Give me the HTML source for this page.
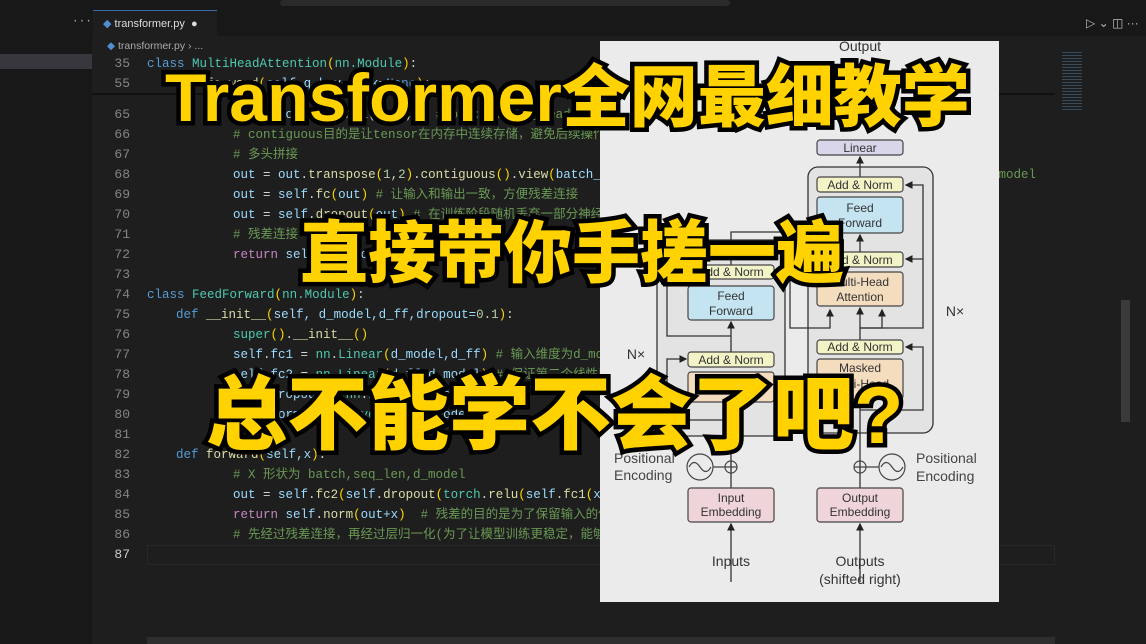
<!DOCTYPE html>
<html><head><meta charset="utf-8">
<style>
*{margin:0;padding:0;box-sizing:border-box}
body{width:1146px;height:644px;overflow:hidden;background:#1e1e1e;position:relative;font-family:"Liberation Mono","Noto Sans CJK SC",monospace}
.abs{position:absolute}
.code{position:absolute;left:0;top:0;width:1055px;height:644px;overflow:hidden}
.ln{position:absolute;left:80px;width:50px;text-align:right;font-size:13px;line-height:14px;color:#858585}
.cl{position:absolute;left:168px;font-size:12.5px;line-height:14px;color:#d4d4d4;white-space:pre}
.k{color:#569cd6}.t{color:#4ec9b0}.v{color:#9cdcfe}.c{color:#6a9955}.r{color:#c586c0}.f{color:#dcdcaa}.n{color:#b5cea8}.y{color:#ffd700}
.title{position:absolute;font-family:"Liberation Sans","Noto Sans CJK SC",sans-serif;font-weight:900;color:#ffd200;-webkit-text-stroke:9px #000;paint-order:stroke fill;line-height:1;white-space:nowrap}
</style></head><body>
<div class="abs" style="left:0;top:0;width:1146px;height:10px;background:#181818"></div>
<div class="abs" style="left:280px;top:0;width:450px;height:6px;background:#2a2a2a;border-radius:3px"></div>
<div class="abs" style="left:0;top:10px;width:92px;height:634px;background:#181818"></div>
<div class="abs" style="left:0;top:54px;width:92px;height:15px;background:#37373d"></div>
<div class="abs" style="left:72px;top:16px;color:#aaa;font-size:11px">···</div>
<div class="abs" style="left:92px;top:10px;width:1054px;height:26px;background:#181818"></div>
<div class="abs" style="left:93px;top:10px;width:124px;height:26px;background:#1e1e1e;border-top:1px solid #3a6ea5"></div>
<div class="abs" style="left:103px;top:17px;font-family:'Liberation Sans',sans-serif;font-size:11px;color:#ddd"><span style="color:#4f8fcf">◆</span> transformer.py &nbsp;●</div>
<div class="abs" style="left:1086px;top:16px;font-family:'Liberation Sans',sans-serif;font-size:12px;color:#bbb">▷ ⌄ ◫ ···</div>
<div class="abs" style="left:107px;top:40px;font-family:'Liberation Sans',sans-serif;font-size:10.5px;color:#aaa"><span style="color:#4f8fcf">◆</span> transformer.py › ...</div>

<div class="code">
<div class="abs" style="left:92px;top:93px;width:963px;height:2px;background:#111"></div>
<div class="ln" style="top:57px">35</div><div class="cl" style="top:57px;left:147px"><span class="k">class</span> <span class="t">MultiHeadAttention</span><span class="y">(</span><span class="t">nn.Module</span><span class="y">)</span>:</div>
<div class="ln" style="top:77px">55</div><div class="cl" style="top:77px;left:176px"><span class="k">def</span> <span class="f">forward</span><span class="y">(</span><span class="v">self,q,k,v,mask=</span><span class="k">None</span><span class="y">)</span>:</div>
<div class="ln" style="top:108px">65</div><div class="cl" style="top:108px;left:233px"><span class="v">out</span> = <span class="v">torch</span>.<span class="f">matmul</span>(<span class="v">attn</span>,<span class="v">v</span>) <span class="c"># out:batch,n_heads,seq_len,d_k   -&gt;   d_model</span></div>
<div class="ln" style="top:128px">66</div><div class="cl c" style="top:128px;left:233px"># contiguous目的是让tensor在内存中连续存储，避免后续操作出错</div>
<div class="ln" style="top:148px">67</div><div class="cl c" style="top:148px;left:233px"># 多头拼接</div>
<div class="ln" style="top:168px">68</div><div class="cl" style="top:168px;left:233px"><span class="v">out</span> = <span class="v">out</span>.<span class="f">transpose</span><span class="y">(</span><span class="n">1</span>,<span class="n">2</span><span class="y">)</span>.<span class="f">contiguous</span><span class="y">()</span>.<span class="f">view</span><span class="y">(</span><span class="v">batch_size</span>,-<span class="n">1</span>,<span class="v">self</span>.<span class="v">n_heads</span>*<span class="v">self</span>.<span class="v">d_k</span><span class="y">)</span> <span class="c"># out:batch,seq_len,d_model</span></div>
<div class="ln" style="top:188px">69</div><div class="cl" style="top:188px;left:233px"><span class="v">out</span> = <span class="v">self</span>.<span class="f">fc</span><span class="y">(</span><span class="v">out</span><span class="y">)</span> <span class="c"># 让输入和输出一致，方便残差连接</span></div>
<div class="ln" style="top:208px">70</div><div class="cl" style="top:208px;left:233px"><span class="v">out</span> = <span class="v">self</span>.<span class="f">dropout</span><span class="y">(</span><span class="v">out</span><span class="y">)</span> <span class="c"># 在训练阶段随机丢弃一部分神经元，防止过拟合</span></div>
<div class="ln" style="top:228px">71</div><div class="cl c" style="top:228px;left:233px"># 残差连接</div>
<div class="ln" style="top:248px">72</div><div class="cl" style="top:248px;left:233px"><span class="r">return</span> <span class="v">self</span>.<span class="f">norm</span><span class="y">(</span><span class="v">out+q</span><span class="y">)</span></div>
<div class="ln" style="top:268px">73</div>
<div class="ln" style="top:288px">74</div><div class="cl" style="top:288px;left:147px"><span class="k">class</span> <span class="t">FeedForward</span><span class="y">(</span><span class="t">nn.Module</span><span class="y">)</span>:</div>
<div class="ln" style="top:308px">75</div><div class="cl" style="top:308px;left:176px"><span class="k">def</span> <span class="f">__init__</span><span class="y">(</span><span class="v">self, d_model,d_ff,dropout=</span><span class="n">0.1</span><span class="y">)</span>:</div>
<div class="ln" style="top:328px">76</div><div class="cl" style="top:328px;left:233px"><span class="t">super</span><span class="y">()</span>.<span class="f">__init__</span><span class="y">()</span></div>
<div class="ln" style="top:348px">77</div><div class="cl" style="top:348px;left:233px"><span class="v">self</span>.<span class="v">fc1</span> = <span class="t">nn</span>.<span class="t">Linear</span><span class="y">(</span><span class="v">d_model,d_ff</span><span class="y">)</span> <span class="c"># 输入维度为d_model，输出维度为d_ff，得到一个更丰富的特征</span></div>
<div class="ln" style="top:368px">78</div><div class="cl" style="top:368px;left:233px"><span class="v">self</span>.<span class="v">fc2</span> = <span class="t">nn</span>.<span class="t">Linear</span><span class="y">(</span><span class="v">d_ff,d_model</span><span class="y">)</span> <span class="c"># 保证第二个线性层的输出维度与输入一致，为了后续的残差连接</span></div>
<div class="ln" style="top:388px">79</div><div class="cl" style="top:388px;left:233px"><span class="v">self</span>.<span class="v">dropout</span> = <span class="t">nn</span>.<span class="t">Dropout</span><span class="y">(</span><span class="v">dropout</span><span class="y">)</span></div>
<div class="ln" style="top:408px">80</div><div class="cl" style="top:408px;left:233px"><span class="v">self</span>.<span class="v">norm</span> = <span class="t">nn</span>.<span class="t">LayerNorm</span><span class="y">(</span><span class="v">d_model</span><span class="y">)</span></div>
<div class="ln" style="top:428px">81</div>
<div class="ln" style="top:448px">82</div><div class="cl" style="top:448px;left:176px"><span class="k">def</span> <span class="f">forward</span><span class="y">(</span><span class="v">self,x</span><span class="y">)</span>:</div>
<div class="ln" style="top:468px">83</div><div class="cl c" style="top:468px;left:233px"># X 形状为 batch,seq_len,d_model</div>
<div class="ln" style="top:488px">84</div><div class="cl" style="top:488px;left:233px"><span class="v">out</span> = <span class="v">self</span>.<span class="f">fc2</span><span class="y">(</span><span class="v">self</span>.<span class="f">dropout</span><span class="y">(</span><span class="t">torch</span>.<span class="f">relu</span><span class="y">(</span><span class="v">self</span>.<span class="f">fc1</span><span class="y">(</span><span class="v">x</span><span class="y">))))</span> <span class="c"># 先经过fc1线性层，再经过relu, 再经过dropout, 在</span></div>
<div class="ln" style="top:508px">85</div><div class="cl" style="top:508px;left:233px"><span class="r">return</span> <span class="v">self</span>.<span class="f">norm</span><span class="y">(</span><span class="v">out+x</span><span class="y">)</span>  <span class="c"># 残差的目的是为了保留输入的低阶信息，同时使梯度</span></div>
<div class="ln" style="top:528px">86</div><div class="cl c" style="top:528px;left:233px"># 先经过残差连接，再经过层归一化(为了让模型训练更稳定，能够加快模型收敛)</div>
<div class="ln" style="top:548px;color:#ccc">87</div>
<div class="abs" style="left:147px;top:545px;width:908px;height:20px;border:1px solid #282828"></div>
</div>
<div class="abs" style="left:1062px;top:52px;width:20px;height:60px;opacity:.5;background:repeating-linear-gradient(#4a7a9a 0 1px,transparent 1px 3px)"></div>
<div class="abs" style="left:1121px;top:300px;width:9px;height:122px;background:#3a3a3a"></div>
<div class="abs" style="left:147px;top:637px;width:908px;height:7px;background:#2e2e2e"></div>

<div class="abs" style="left:600px;top:41px;width:399px;height:561px;background:#ebebeb"></div>
<svg class="abs" style="left:0;top:0" width="1146" height="644" font-family="Liberation Sans, sans-serif">
<defs><marker id="a" markerWidth="6" markerHeight="6" refX="5" refY="3" orient="auto"><path d="M0,0L6,3L0,6z" fill="#222"/></marker></defs>
<g stroke="#333" stroke-width="1.3" fill="none">
<rect x="657" y="240" width="128" height="196" rx="10" fill="#e3e3e3"/>
<rect x="808" y="167" width="125" height="266" rx="10" fill="#e3e3e3"/>
<line x1="731" y1="582" x2="731" y2="524" marker-end="url(#a)"/>
<line x1="860" y1="582" x2="860" y2="524" marker-end="url(#a)"/>
<line x1="731" y1="488" x2="731" y2="402" marker-end="url(#a)"/>
<line x1="860" y1="488" x2="860" y2="399" marker-end="url(#a)"/>
<line x1="731" y1="352" x2="731" y2="322" marker-end="url(#a)"/>
<line x1="731" y1="265" x2="731" y2="240"/>
<path d="M731 240 V232 H790 V328 H796"/>
<line x1="860" y1="340" x2="860" y2="308" marker-end="url(#a)"/>
<line x1="860" y1="252" x2="860" y2="235" marker-end="url(#a)"/>
<line x1="860" y1="177" x2="860" y2="157" marker-end="url(#a)"/>
<path d="M860 328 H923 V185 H906" marker-end="url(#a)"/>
<path d="M860 410 H923 V347 H906" marker-end="url(#a)"/>
<path d="M923 259 H906" marker-end="url(#a)"/>
<path d="M731 420 H667 V359 H686" marker-end="url(#a)"/>
<path d="M731 336 H667 V272 H686" marker-end="url(#a)"/>
<path d="M796 328 H830 V310" marker-end="url(#a)"/>
<path d="M860 328 H882 V310" marker-end="url(#a)"/>
</g>
<g stroke="#444" stroke-width="1.2">
<rect x="817" y="140" width="86" height="15" rx="3" fill="#d9d6ea"/>
<rect x="817" y="177" width="86" height="15" rx="3" fill="#f2f3c6"/>
<rect x="817" y="197" width="86" height="36" rx="3" fill="#c5e4f1"/>
<rect x="817" y="252" width="86" height="15" rx="3" fill="#f2f3c6"/>
<rect x="817" y="272" width="86" height="34" rx="3" fill="#f4dcbf"/>
<rect x="817" y="340" width="86" height="14" rx="3" fill="#f2f3c6"/>
<rect x="817" y="359" width="86" height="40" rx="3" fill="#f4dcbf"/>
<rect x="688" y="265" width="86" height="14" rx="3" fill="#f2f3c6"/>
<rect x="688" y="286" width="86" height="34" rx="3" fill="#c5e4f1"/>
<rect x="688" y="352" width="86" height="15" rx="3" fill="#f2f3c6"/>
<rect x="688" y="372" width="86" height="30" rx="3" fill="#f4dcbf"/>
<rect x="688" y="488" width="86" height="34" rx="3" fill="#efd5da"/>
<rect x="817" y="488" width="86" height="34" rx="3" fill="#efd5da"/>
<circle cx="731" cy="467" r="6" fill="none"/><circle cx="860" cy="467" r="6" fill="none"/>
<circle cx="700" cy="467" r="13" fill="none"/><circle cx="892" cy="467" r="13" fill="none"/>
<path d="M689 467 q5 -9 11 0 t11 0 M881 467 q5 -9 11 0 t11 0" fill="none"/>
<path d="M713 467H725M866 467H879M731 461V473M725 467H737M860 461V473M854 467H866"/>
</g>
<g font-size="12" fill="#333" text-anchor="middle">
<text x="860" y="152">Linear</text>
<text x="860" y="189">Add &amp; Norm</text>
<text x="860" y="212">Feed</text><text x="860" y="227">Forward</text>
<text x="860" y="264">Add &amp; Norm</text>
<text x="860" y="286">Multi-Head</text><text x="860" y="301">Attention</text>
<text x="860" y="351">Add &amp; Norm</text>
<text x="860" y="372">Masked</text>
<text x="860" y="388">Multi-Head</text>
<text x="731" y="276">Add &amp; Norm</text>
<text x="731" y="300">Feed</text><text x="731" y="315">Forward</text>
<text x="731" y="364">Add &amp; Norm</text>
<text x="731" y="385">Multi-Head</text>
<text x="731" y="502">Input</text>
<text x="731" y="516">Embedding</text>
<text x="860" y="502">Output</text>
<text x="860" y="516">Embedding</text>
<text x="731" y="566" font-size="14">Inputs</text>
<text x="860" y="566" font-size="14">Outputs</text>
<text x="860" y="584" font-size="14">(shifted right)</text>
<text x="860" y="51" font-size="14">Output</text>
<text x="636" y="359" font-size="14">N×</text>
<text x="955" y="316" font-size="14">N×</text>
</g>
<g font-size="14" fill="#444">
<text x="614" y="463">Positional</text><text x="614" y="480">Encoding</text>
<text x="916" y="463">Positional</text><text x="916" y="481">Encoding</text>
</g>
</svg>
<div class="title" style="left:165px;top:64px;font-size:68px">Transformer全网最细教学</div>
<div class="title" style="left:300px;top:220px;font-size:68px">直接带你手搓一遍</div>
<div class="title" style="left:206px;top:376px;font-size:81px">总不能学不会了吧?</div>
</body></html>
